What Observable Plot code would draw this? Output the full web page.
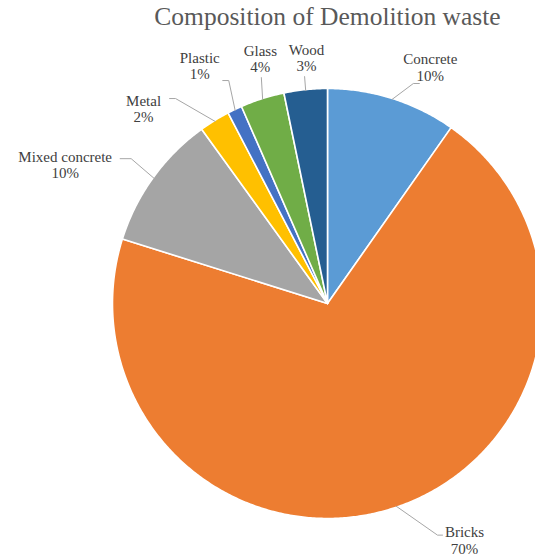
<!DOCTYPE html>
<html>
<head>
<meta charset="utf-8">
<script src="https://cdn.jsdelivr.net/npm/d3@7"></script>
<script src="https://cdn.jsdelivr.net/npm/@observablehq/plot@0.6"></script>
<style>
  html, body { margin: 0; padding: 0; background: #fff; }
  #chart svg { display: block; }
</style>
</head>
<body>
<div id="chart"></div>
<script>
// ---- data ----
const title = "Composition of Demolition waste";
const categories = ["Concrete", "Bricks", "Mixed concrete", "Metal", "Plastic", "Glass", "Wood"];
const shares = [9.75, 70.1, 10.2, 2.3, 1.1, 3.3, 3.25];
const percentLabels = ["10%", "70%", "10%", "2%", "1%", "4%", "3%"];
const colors = ["#5B9BD5", "#ED7D31", "#A5A5A5", "#FFC000", "#4472C4", "#70AD47", "#255E91"];

// ---- layout ----
const W = 535, H = 556;
const cx = 327, cy = 303, R = 215;
// label centre offsets from slice mid-edge point (px)
const labelOffset = [[38, -31], [68, 33], [-88, -13], [-71, -12], [-35, -44], [-2, -40], [1, -32]];
// leader line elbow/end offsets from slice mid-edge point (px)
const leaderPts = [
  [[21, -15], [27, -15]],
  [[41, 28], [46, 28]],
  [[-22, -19], [-33, -19]],
  [[-39, -22], [-45, -22]],
  [[-6, -29], [-12, -29]],
  [[-1, -21]],
  [[-1, -13]]
];

const arcs = d3.pie().sort(null).value(d => d)(shares);
const px = a => cx + R * Math.sin(a);
const py = a => cy - R * Math.cos(a);

const polys = [];
arcs.forEach((a, i) => {
  const cat = categories[i];
  polys.push({cat, x: cx, y: cy});
  const n = Math.max(2, Math.ceil((a.endAngle - a.startAngle) / (Math.PI / 360)));
  for (let k = 0; k <= n; k++) {
    const t = a.startAngle + (a.endAngle - a.startAngle) * k / n;
    polys.push({cat, x: px(t), y: py(t)});
  }
  polys.push({cat, x: cx, y: cy});
});

const labels = arcs.map((a, i) => {
  const m = (a.startAngle + a.endAngle) / 2;
  return {cat: categories[i], text: categories[i] + "\n" + percentLabels[i],
          x: px(m) + labelOffset[i][0], y: py(m) + labelOffset[i][1]};
});

const leaders = [];
arcs.forEach((a, i) => {
  const m = (a.startAngle + a.endAngle) / 2;
  const ex = cx + (R - 1) * Math.sin(m), ey = cy - (R - 1) * Math.cos(m);
  leaders.push({cat: categories[i], x: ex, y: ey});
  leaderPts[i].forEach(p => leaders.push({cat: categories[i], x: px(m) + p[0], y: py(m) + p[1]}));
});

const font = "'Liberation Serif', 'Times New Roman', serif";

const chart = Plot.plot({
  width: W,
  height: H,
  margin: 0,
  x: {type: "identity", axis: null},
  y: {type: "identity", axis: null},
  color: {domain: categories, range: colors},
  style: {background: "#fff", fontFamily: font},
  marks: [
    Plot.line(polys, {x: "x", y: "y", z: "cat", fill: "cat", stroke: "white", strokeWidth: 1.6, strokeLinejoin: "round", curve: "linear"}),
    Plot.line(leaders, {x: "x", y: "y", z: "cat", stroke: "#A6A6A6", strokeWidth: 1}),
    Plot.text(labels, {x: "x", y: "y", text: "text", fill: "#404040", fontSize: 15, lineHeight: 1.12, fontFamily: font}),
    Plot.text([title], {frameAnchor: "top", dx: cx - W / 2, dy: 6, text: d => d, lineAnchor: "top", fill: "#595959", fontSize: 25.5, fontFamily: font})
  ]
});
document.getElementById("chart").appendChild(chart);
</script>
</body>
</html>
